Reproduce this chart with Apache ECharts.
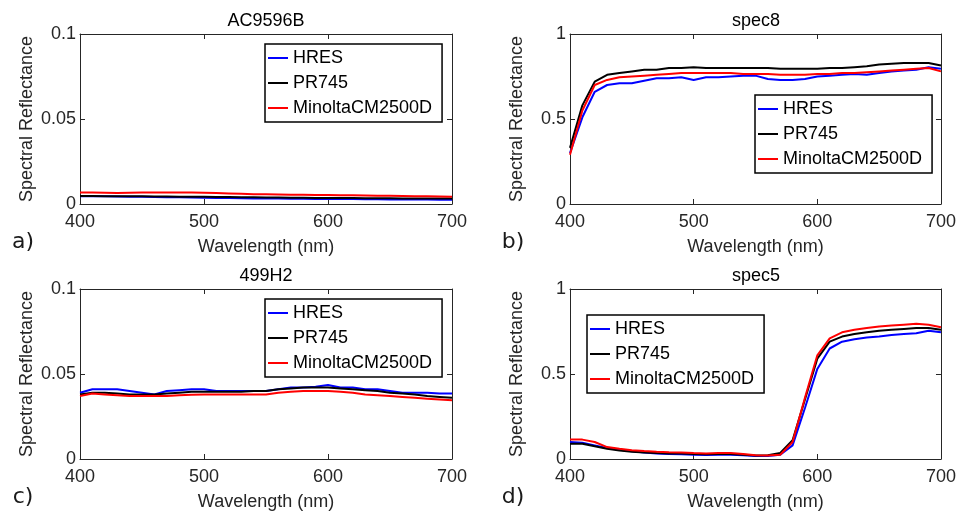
<!DOCTYPE html>
<html>
<head>
<meta charset="utf-8">
<script src="https://cdn.jsdelivr.net/npm/echarts@6/dist/echarts.min.js"></script>
<style>
  html, body { margin: 0; padding: 0; background: #fff; }
  #main { width: 959px; height: 514px; }
</style>
</head>
<body>
<div id="main"></div>
<script>
// wavelengths (nm)
var wavelengths = [400, 410, 420, 430, 440, 450, 460, 470, 480, 490, 500, 510, 520, 530, 540, 550,
                   560, 570, 580, 590, 600, 610, 620, 630, 640, 650, 660, 670, 680, 690, 700];

var seriesNames = ['HRES', 'PR745', 'MinoltaCM2500D'];
var panelTitles = ['AC9596B', 'spec8', '499H2', 'spec5'];
var panelLetters = ['a)', 'b)', 'c)', 'd)'];

// a) AC9596B
var acHRES = [0.0046, 0.0046, 0.0045, 0.0044, 0.0043, 0.0042, 0.0041, 0.0040, 0.0039, 0.0038, 0.0037,
              0.0036, 0.0035, 0.0034, 0.0033, 0.0033, 0.0032, 0.0031, 0.0031, 0.0030, 0.0030, 0.0029,
              0.0029, 0.0028, 0.0028, 0.0027, 0.0027, 0.0026, 0.0026, 0.0025, 0.0025];
var acPR745 = [0.0047, 0.0047, 0.0046, 0.0046, 0.0045, 0.0045, 0.0044, 0.0044, 0.0043, 0.0043, 0.0042,
               0.0041, 0.0041, 0.0040, 0.0039, 0.0038, 0.0038, 0.0037, 0.0037, 0.0036, 0.0036, 0.0035,
               0.0035, 0.0034, 0.0034, 0.0034, 0.0033, 0.0033, 0.0033, 0.0032, 0.0032];
var acMinolta = [0.0067, 0.0067, 0.0066, 0.0065, 0.0066, 0.0067, 0.0068, 0.0068, 0.0068, 0.0067, 0.0066,
                 0.0064, 0.0062, 0.0060, 0.0058, 0.0057, 0.0056, 0.0055, 0.0054, 0.0053, 0.0053, 0.0052,
                 0.0051, 0.0050, 0.0049, 0.0048, 0.0047, 0.0046, 0.0045, 0.0044, 0.0043];

// b) spec8
var s8HRES = [0.30, 0.51, 0.66, 0.70, 0.71, 0.71, 0.725, 0.74, 0.74, 0.745, 0.73, 0.745, 0.745, 0.75,
              0.755, 0.755, 0.735, 0.73, 0.73, 0.735, 0.75, 0.755, 0.76, 0.765, 0.76, 0.77, 0.78, 0.785,
              0.79, 0.805, 0.795];
var s8PR745 = [0.33, 0.58, 0.72, 0.76, 0.77, 0.78, 0.79, 0.79, 0.80, 0.80, 0.805, 0.80, 0.80, 0.80,
               0.80, 0.80, 0.80, 0.795, 0.795, 0.795, 0.795, 0.80, 0.80, 0.805, 0.81, 0.82, 0.825, 0.83,
               0.83, 0.83, 0.815];
var s8Minolta = [0.29, 0.55, 0.70, 0.73, 0.745, 0.75, 0.755, 0.76, 0.765, 0.77, 0.77, 0.77, 0.77, 0.77,
                 0.765, 0.765, 0.765, 0.76, 0.76, 0.76, 0.765, 0.765, 0.77, 0.77, 0.775, 0.78, 0.785, 0.79,
                 0.795, 0.80, 0.78];

// c) 499H2
var h2HRES = [0.039, 0.041, 0.041, 0.041, 0.040, 0.039, 0.038, 0.040, 0.0405, 0.041, 0.041, 0.040,
              0.040, 0.040, 0.040, 0.040, 0.041, 0.042, 0.042, 0.0425, 0.0435, 0.042, 0.042, 0.041,
              0.041, 0.040, 0.039, 0.039, 0.039, 0.0385, 0.0385];
var h2PR745 = [0.038, 0.039, 0.039, 0.0385, 0.038, 0.038, 0.038, 0.0385, 0.039, 0.0395, 0.0395, 0.0395,
               0.0395, 0.0395, 0.040, 0.040, 0.041, 0.0415, 0.042, 0.042, 0.042, 0.0415, 0.041, 0.0405,
               0.040, 0.039, 0.0385, 0.038, 0.037, 0.0365, 0.036];
var h2Minolta = [0.037, 0.0385, 0.038, 0.0375, 0.037, 0.037, 0.037, 0.037, 0.0375, 0.0378, 0.038, 0.038,
                 0.038, 0.038, 0.038, 0.038, 0.039, 0.0395, 0.040, 0.040, 0.040, 0.0395, 0.039, 0.038,
                 0.0375, 0.037, 0.0365, 0.036, 0.0355, 0.035, 0.0345];

// d) spec5
var s5HRES = [0.10, 0.095, 0.08, 0.065, 0.055, 0.045, 0.038, 0.033, 0.030, 0.028, 0.025, 0.023, 0.025,
              0.025, 0.022, 0.018, 0.018, 0.025, 0.08, 0.30, 0.53, 0.65, 0.69, 0.705, 0.715, 0.72, 0.73,
              0.735, 0.74, 0.755, 0.745];
var s5PR745 = [0.09, 0.09, 0.075, 0.06, 0.05, 0.043, 0.038, 0.035, 0.033, 0.032, 0.030, 0.028, 0.030,
               0.030, 0.025, 0.020, 0.022, 0.035, 0.11, 0.35, 0.59, 0.69, 0.72, 0.735, 0.745, 0.755, 0.76,
               0.765, 0.77, 0.77, 0.76];
var s5Minolta = [0.114, 0.114, 0.10, 0.07, 0.06, 0.052, 0.047, 0.043, 0.040, 0.038, 0.035, 0.033, 0.035,
                 0.035, 0.030, 0.022, 0.020, 0.025, 0.10, 0.36, 0.61, 0.71, 0.745, 0.76, 0.77, 0.78, 0.785,
                 0.79, 0.795, 0.79, 0.775];

var panelData = [
    [acHRES, acPR745, acMinolta],
    [s8HRES, s8PR745, s8Minolta],
    [h2HRES, h2PR745, h2Minolta],
    [s5HRES, s5PR745, s5Minolta]
];
var yMax = [0.1, 1, 0.1, 1];

var myChart = echarts.init(document.getElementById('main'));

var fontFamily = '"Liberation Sans", Arial, sans-serif';
var axisColor = '#262626';
var lineColors = ['#0000ff', '#000000', '#ff0000'];

// panel placement
var grids = [
    {left: 80, top: 34, width: 372, height: 170},
    {left: 570, top: 34, width: 372, height: 170},
    {left: 80, top: 289, width: 372, height: 170},
    {left: 570, top: 289, width: 372, height: 170}
];
var legendPos = [
    {left: 265, top: 44},
    {left: 755, top: 95},
    {left: 265, top: 299},
    {left: 587, top: 315}
];

var xAxes = [], yAxes = [], series = [], legends = [], graphics = [];

for (var i = 0; i < 4; i++) {
    var lineStyle = {color: axisColor, width: 1};
    // bottom x axis with labels
    xAxes.push({
        gridIndex: i, type: 'value', position: 'bottom',
        min: 400, max: 700, interval: 100,
        name: 'Wavelength (nm)', nameLocation: 'middle', nameGap: 34,
        nameTextStyle: {fontFamily: fontFamily, fontSize: 18, color: axisColor},
        axisLine: {show: true, lineStyle: lineStyle},
        axisTick: {show: true, inside: true, length: 5, lineStyle: lineStyle},
        axisLabel: {fontFamily: fontFamily, fontSize: 18, color: axisColor, margin: 9},
        splitLine: {show: false}
    });
    // top x axis, ticks only
    xAxes.push({
        gridIndex: i, type: 'value', position: 'top',
        min: 400, max: 700, interval: 100,
        axisLine: {show: true, onZero: false, lineStyle: lineStyle},
        axisTick: {show: true, inside: true, length: 5, lineStyle: lineStyle},
        axisLabel: {show: false},
        splitLine: {show: false}
    });
    yAxes.push({
        gridIndex: i, type: 'value', position: 'left',
        min: 0, max: yMax[i], interval: yMax[i] / 2,
        name: 'Spectral Reflectance', nameLocation: 'middle', nameGap: 44,
        nameTextStyle: {fontFamily: fontFamily, fontSize: 18, color: axisColor},
        axisLine: {show: true, onZero: false, lineStyle: lineStyle},
        axisTick: {show: true, inside: true, length: 5, lineStyle: lineStyle},
        axisLabel: {fontFamily: fontFamily, fontSize: 18, color: axisColor, margin: 4},
        splitLine: {show: false}
    });
    yAxes.push({
        gridIndex: i, type: 'value', position: 'right',
        min: 0, max: yMax[i], interval: yMax[i] / 2,
        axisLine: {show: true, onZero: false, lineStyle: lineStyle},
        axisTick: {show: true, inside: true, length: 5, lineStyle: lineStyle},
        axisLabel: {show: false},
        splitLine: {show: false}
    });

    for (var k = 0; k < 3; k++) {
        var vals = panelData[i][k];
        var pts = [];
        for (var j = 0; j < wavelengths.length; j++) {
            pts.push([wavelengths[j], vals[j]]);
        }
        series.push({
            name: seriesNames[k],
            type: 'line',
            xAxisIndex: i * 2,
            yAxisIndex: i * 2,
            data: pts,
            symbol: 'none',
            z: 2 + k,
            lineStyle: {color: lineColors[k], width: 2},
            itemStyle: {color: lineColors[k]},
            animation: false
        });
    }

    legends.push({
        left: legendPos[i].left,
        top: legendPos[i].top,
        orient: 'vertical',
        data: seriesNames,
        icon: 'rect',
        itemWidth: 20,
        itemHeight: 2,
        itemGap: 7,
        padding: [5, 10, 5, 3],
        borderColor: '#000',
        borderWidth: 1.5,
        backgroundColor: '#fff',
        selectedMode: false,
        textStyle: {fontFamily: fontFamily, fontSize: 18, color: '#000', lineHeight: 18, padding: 0}
    });

    // panel title
    graphics.push({
        type: 'text',
        x: grids[i].left + grids[i].width / 2,
        y: grids[i].top - 13,
        style: {
            text: panelTitles[i], align: 'center', verticalAlign: 'middle',
            font: '18px ' + fontFamily, fill: '#000'
        }
    });
    // panel letter
    graphics.push({
        type: 'text',
        x: grids[i].left - 57,
        y: grids[i].top + grids[i].height + 38,
        style: {
            text: panelLetters[i], align: 'center', verticalAlign: 'middle',
            font: '22px "DejaVu Sans", sans-serif', fill: '#1a1a1a'
        }
    });
}

var option = {
    backgroundColor: '#fff',
    animation: false,
    grid: grids,
    xAxis: xAxes,
    yAxis: yAxes,
    legend: legends,
    graphic: graphics,
    series: series
};

myChart.setOption(option);
</script>
</body>
</html>
